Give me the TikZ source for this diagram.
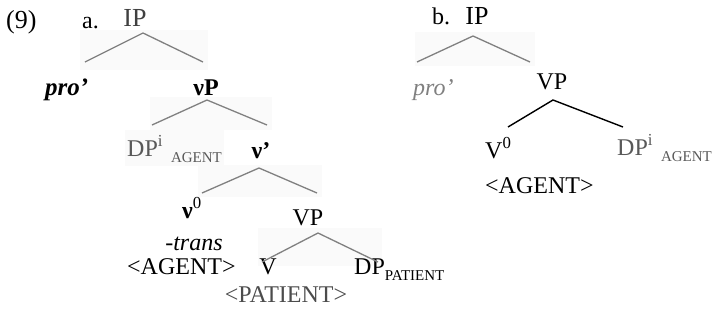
\documentclass[tikz,border=0pt]{standalone}
\usepackage{fontspec}
\setmainfont{Liberation Serif}
\begin{document}
\begin{tikzpicture}[x=1pt,y=-1pt,
  lbl/.style={inner sep=0pt, anchor=base, font=\fontsize{24}{26}\selectfont},
  lblw/.style={lbl, anchor=base west},
  big/.style={font=\fontsize{26}{28}\selectfont},
  bld/.style={font=\fontsize{24}{26}\selectfont\bfseries},
  itl/.style={font=\fontsize{24}{26}\selectfont\itshape},
  br/.style={draw=black!50, line width=1.3pt},
  brb/.style={draw=black, line width=1.4pt},
  bg/.style={fill=black!2, draw=none}]
\useasboundingbox (0,0) rectangle (716,325);
\newcommand{\subsc}[1]{\raisebox{-6pt}{\fontsize{15}{16}\selectfont #1}}
% faint scan backgrounds
\fill[bg] (80,30) rectangle (208,70);
\fill[bg] (150,97) rectangle (272,130);
\fill[bg] (198,165) rectangle (322,197);
\fill[bg] (258,228) rectangle (382,266);
\fill[bg] (415,32) rectangle (535,66);
\fill[bg] (125,130) rectangle (224,166);
% tree a labels
\node[lblw, big] (num) at (6,28) {(9)};
\node[lblw] (la) at (82,28) {a.};
\node[lbl, big, text=black!75] (ipa) at (135,26) {IP};
\node[lblw, font=\fontsize{25}{27}\selectfont\itshape\bfseries] (proa) at (45,95) {pro'};
\node[lbl, bld] (nupa) at (206,95) {νP};
\node[lblw, text=black!65] (dpa) at (127,156) {DP\textsuperscript{i}\hspace{8pt}\subsc{AGENT}};
\node[lbl, bld] (nubar) at (261,158) {ν’};
\node[lbl, bld] (nu0) at (192,218) {ν\textsuperscript{\mdseries 0}};
\node[lbl] (vpa) at (308,225) {VP};
\node[lbl, itl] (trans) at (194,250) {-trans};
\node[lblw] (agenta) at (127,274) {<AGENT>};
\node[lbl] (va) at (268,274) {V};
\node[lblw] (dppat) at (354,274) {DP\subsc{PATIENT}};
\node[lbl, text=black!70] (patient) at (286,302) {<PATIENT>};
% tree a branches
\coordinate (ipa-t) at (143,33); \coordinate (ipa-l) at (85,62); \coordinate (ipa-r) at (203,62);
\coordinate (nupa-t) at (207,100); \coordinate (nupa-l) at (152,125); \coordinate (nupa-r) at (267,125);
\coordinate (nubar-t) at (259,168); \coordinate (nubar-l) at (202,193); \coordinate (nubar-r) at (317,193);
\coordinate (vpa-t) at (318,233); \coordinate (vpa-l) at (262,262); \coordinate (vpa-r) at (378,262);
\draw[br] (ipa-l) -- (ipa-t) -- (ipa-r);
\draw[br] (nupa-l) -- (nupa-t) -- (nupa-r);
\draw[br] (nubar-l) -- (nubar-t) -- (nubar-r);
\draw[br] (vpa-l) -- (vpa-t) -- (vpa-r);
% tree b labels
\node[lblw] (lb) at (432,24) {b.};
\node[lbl, big] (ipb) at (477,24) {IP};
\node[lblw, itl, text=black!50] (prob) at (413,95) {pro'};
\node[lbl] (vpb) at (552,89) {VP};
\node[lblw] (v0b) at (485,158) {V\textsuperscript{0}};
\node[lblw, text=black!65] (dpb) at (617,155) {DP\textsuperscript{i}\hspace{8pt}\subsc{AGENT}};
\node[lblw] (agentb) at (485,193) {<AGENT>};
% tree b branches
\coordinate (ipb-t) at (473,36); \coordinate (ipb-l) at (417,62); \coordinate (ipb-r) at (530,62);
\coordinate (vpb-t) at (553,100); \coordinate (vpb-l) at (508,127); \coordinate (vpb-r) at (623,127);
\draw[br] (ipb-l) -- (ipb-t) -- (ipb-r);
\draw[brb] (vpb-l) -- (vpb-t) -- (vpb-r);
\end{tikzpicture}
\end{document}
